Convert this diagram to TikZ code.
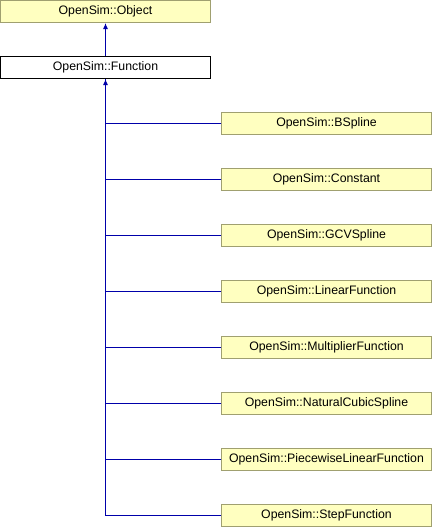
\documentclass[tikz,border=0pt]{standalone}
\usepackage{fontspec}
\setmainfont{Liberation Sans}
\usepackage{tikz}
\usetikzlibrary{arrows.meta}
\definecolor{inhblue}{RGB}{0,0,170}
\definecolor{clsfill}{RGB}{255,255,192}
\definecolor{clsdraw}{RGB}{160,160,112}
\tikzset{
    cls/.style={shape=rectangle, draw=clsdraw, fill=clsfill, line width=1pt,
        minimum width=210pt, minimum height=22pt, inner sep=0pt,
        font=\fontsize{12.3}{14}\selectfont},
    curcls/.style={cls, draw=black, fill=white},
    inh/.style={draw=inhblue, line width=1.1pt},
    ->-/.style={inh, -{Latex[length=6pt,width=5pt]}}}

\begin{document}
\begin{tikzpicture}[x=1pt, y=-1pt]
    \useasboundingbox (0,0) rectangle (432,528);

    \node[cls] (Obj) at (105.5,11.5) {OpenSim::Object};
    \node[curcls] (Fun) at (105.5,67.5) {OpenSim::Function};

    \node[cls] (BSp) at (326.5,123.5) {OpenSim::BSpline};
    \node[cls] (Con) at (326.5,179.5) {OpenSim::Constant};
    \node[cls] (GCV) at (326.5,235.5) {OpenSim::GCVSpline};
    \node[cls] (Lin) at (326.5,291.5) {OpenSim::LinearFunction};
    \node[cls] (Mul) at (326.5,347.5) {OpenSim::MultiplierFunction};
    \node[cls] (Nat) at (326.5,403.5) {OpenSim::NaturalCubicSpline};
    \node[cls] (Pie) at (326.5,459.5) {OpenSim::PiecewiseLinearFunction};
    \node[cls] (Ste) at (326.5,515.5) {OpenSim::StepFunction};

    \draw[->-] (Fun) -- (Obj);

    \draw[inh] (BSp.west) -| (Fun.south);
    \draw[inh] (Con.west) -| (Fun.south);
    \draw[inh] (GCV.west) -| (Fun.south);
    \draw[inh] (Lin.west) -| (Fun.south);
    \draw[inh] (Mul.west) -| (Fun.south);
    \draw[inh] (Nat.west) -| (Fun.south);
    \draw[inh] (Pie.west) -| (Fun.south);
    \draw[->-] (Ste.west) -| (Fun.south);

\end{tikzpicture}
\end{document}
